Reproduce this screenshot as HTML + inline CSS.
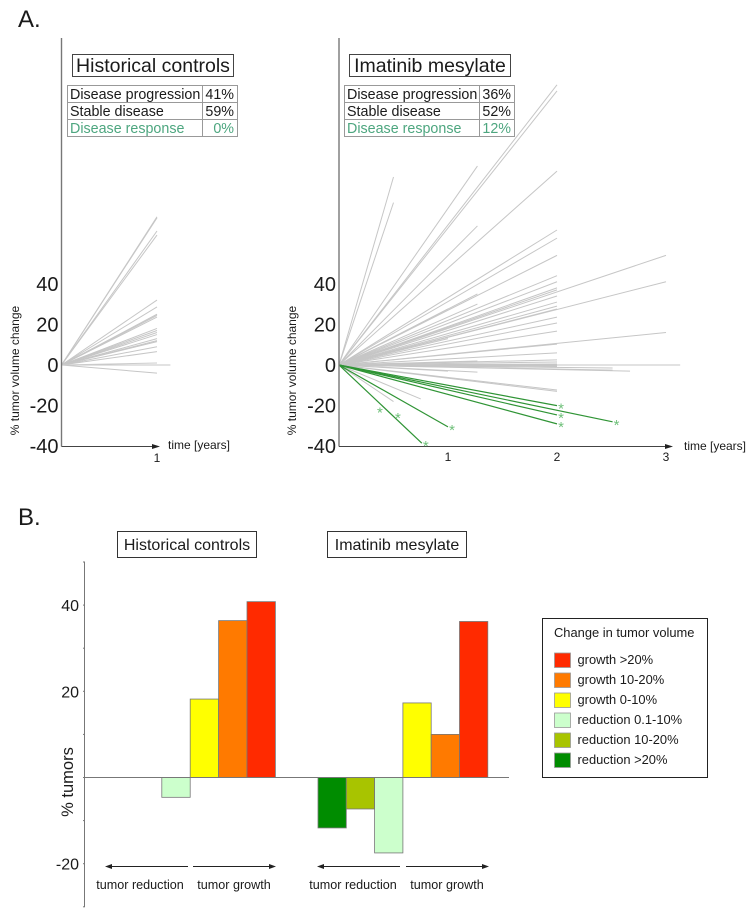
<!DOCTYPE html>
<html lang="en">
<head>
<meta charset="utf-8">
<title>Tumor volume change chart</title>
<style>
html,body{margin:0;padding:0;background:#fff;}
svg{display:block;font-family:"Liberation Sans",Arial,sans-serif;}
text{fill:#1a1a1a;}
</style>
</head>
<body>
<svg id="chart" width="754" height="918" viewBox="0 0 754 918" xmlns="http://www.w3.org/2000/svg">
  <rect x="0" y="0" width="754" height="918" fill="#fff"/>
  <text x="18" y="27" font-size="24">A.</text>
  <text x="18" y="525" font-size="24">B.</text>

  <g>
    <rect x="72.5" y="54.5" width="161" height="22" fill="#fff" stroke="#444" stroke-width="1"/>
    <text x="153" y="72" font-size="19.5" text-anchor="middle">Historical controls</text>
    <rect x="67.5" y="85.5" width="170" height="51" fill="#fff" stroke="#999"/>
    <path d="M67.5 102.5H237.5M67.5 119.5H237.5M202.5 85.5V136.5" stroke="#999" fill="none"/>
    <text x="70" y="99" font-size="14.3">Disease progression</text>
    <text x="234" y="99" font-size="14.3" text-anchor="end">41%</text>
    <text x="70" y="116" font-size="14.3">Stable disease</text>
    <text x="234" y="116" font-size="14.3" text-anchor="end">59%</text>
    <text x="70" y="133" font-size="14.3" style="fill:#4da67f">Disease response</text>
    <text x="234" y="133" font-size="14.3" text-anchor="end" style="fill:#4da67f">0%</text>
  </g>

  <g>
    <rect x="349.5" y="54.5" width="161" height="22" fill="#fff" stroke="#444" stroke-width="1"/>
    <text x="430" y="72" font-size="19.5" text-anchor="middle">Imatinib mesylate</text>
    <rect x="344.5" y="85.5" width="170" height="51" fill="#fff" stroke="#999"/>
    <path d="M344.5 102.5H514.5M344.5 119.5H514.5M479.5 85.5V136.5" stroke="#999" fill="none"/>
    <text x="347" y="99" font-size="14.3">Disease progression</text>
    <text x="511" y="99" font-size="14.3" text-anchor="end">36%</text>
    <text x="347" y="116" font-size="14.3">Stable disease</text>
    <text x="511" y="116" font-size="14.3" text-anchor="end">52%</text>
    <text x="347" y="133" font-size="14.3" style="fill:#4da67f">Disease response</text>
    <text x="511" y="133" font-size="14.3" text-anchor="end" style="fill:#4da67f">12%</text>
  </g>

  <text transform="translate(19,370.5) rotate(-90)" font-size="12" text-anchor="middle">% tumor volume change</text>
  <text transform="translate(296,370.5) rotate(-90)" font-size="12" text-anchor="middle">% tumor volume change</text>
  <text x="168" y="449" font-size="12">time [years]</text>
  <text x="684" y="450" font-size="12">time [years]</text>

  <g id="lines-layer"></g>
  <g id="bars-layer"></g>

  <rect x="117.5" y="531.5" width="139" height="26" fill="#fff" stroke="#333" stroke-width="1"/>
  <text x="187" y="550" font-size="16" text-anchor="middle">Historical controls</text>
  <rect x="327.5" y="531.5" width="139" height="26" fill="#fff" stroke="#333" stroke-width="1"/>
  <text x="397" y="550" font-size="16" text-anchor="middle">Imatinib mesylate</text>
  <text transform="translate(73,782) rotate(-90)" font-size="16.5" text-anchor="middle">% tumors</text>

  <g stroke="#222" fill="#222">
    <path d="M188 866.5H110" fill="none"/>
    <path d="M105 866.5L112 864V869Z" stroke="none"/>
    <path d="M193 866.5H271" fill="none"/>
    <path d="M276 866.5L269 864V869Z" stroke="none"/>
    <path d="M400 866.5H322" fill="none"/>
    <path d="M317 866.5L324 864V869Z" stroke="none"/>
    <path d="M406 866.5H484" fill="none"/>
    <path d="M489 866.5L482 864V869Z" stroke="none"/>
  </g>
  <text x="140" y="889" font-size="12.6" text-anchor="middle">tumor reduction</text>
  <text x="234" y="889" font-size="12.6" text-anchor="middle">tumor growth</text>
  <text x="353" y="889" font-size="12.6" text-anchor="middle">tumor reduction</text>
  <text x="447" y="889" font-size="12.6" text-anchor="middle">tumor growth</text>

  <g>
    <rect x="542.5" y="618.5" width="165" height="159" fill="#fff" stroke="#222" stroke-width="1"/>
    <text x="554" y="637" font-size="12.9">Change in tumor volume</text>
    <g id="legend-entries"></g>
  </g>
</svg>
<script>
// Panel A: historical controls, tumor volume change at last follow-up
const controlYears = [1,1,1,1,1,1,1,1,1,1,1,1,1,1,1,1,1,1,1.14,1];
const controlValues = [73,72.5,66,64,32,28.6,25,24.4,23.6,18,17,16,15,13,12,11.5,9,6.6,0,-4];
const controlExtraYears = [1];
const controlExtraValues = [1];

// Panel A: imatinib mesylate, gray non-response tumors
const imatinibYears = [2,2,2,2,2,2,2,2,2,2,2,2,2,2,2,2,2,2,2,2,2,1.27,1.27,0.5,0.5,1.27,1.27,1.27,1,1,3,3,3,3.13,2.67,2.51,2.51,2,2,1.27,1,0.75,0.5,2,2,2];
const imatinibValues = [138,135,95.5,66.5,62.5,54,44,41,38,37,34,31,29,27.6,23.6,20.7,16.7,10.3,6,0.5,-0.5,98,68.5,92.6,80,35,30,2,27.6,13,54,41,16,0,-3,-1.5,-2.5,-12.3,-13,-3.5,-3,-16.7,-18,1.5,-1,2.5];

// Panel A: imatinib mesylate, green disease-response tumors
const responseYears = [2,2,2,2.51,1,0.76];
const responseValues = [-20,-24.6,-29,-28,-30.5,-38.5];
const loneStarYears = [0.376,0.54];
const loneStarValues = [-22,-24.6];

const lineYTicks = [40,20,0,-20,-40];
const controlXTicks = [1];
const imatinibXTicks = [1,2,3];

// Panel B
const barCategories = ['reduction >20%','reduction 10-20%','reduction 0.1-10%','growth 0-10%','growth 10-20%','growth >20%'];
const barColors = ['#008c00','#a8c400','#ccffcc','#ffff00','#ff7a00','#ff2a00'];
const controlBarValues = [0,0,-4.6,18.2,36.4,40.8];
const imatinibBarValues = [-11.7,-7.3,-17.5,17.3,10,36.2];
const barYTicks = [40,20,-20];
const barMinorTicks = [50,30,10,-10,-30];
const legendOrder = [5,4,3,2,1,0];

const NS = 'http://www.w3.org/2000/svg';
function make(tag, attrs, parent, content) {
  const el = document.createElementNS(NS, tag);
  for (const k in attrs) el.setAttribute(k, attrs[k]);
  if (content !== undefined) el.textContent = content;
  parent.appendChild(el);
  return el;
}

const linesLayer = document.getElementById('lines-layer');
const barsLayer = document.getElementById('bars-layer');
const legendEntries = document.getElementById('legend-entries');

const lineY = v => 365 - 2.03 * v;
const controlX = t => 61.5 + 95.5 * t;
const imatinibX = t => 339 + 109 * t;
const barY = v => 777.5 - 4.31 * v;

function drawSpokes(xFn, years, values, color, width, name) {
  years.forEach((t, i) => {
    const ln = make('line', {x1: xFn(0), y1: lineY(0), x2: xFn(t), y2: lineY(values[i]), stroke: color, 'stroke-width': width}, linesLayer);
    
    
  });
}

function drawLineAxes(xFn, x0, xEnd, xTicks, tickY, prefix) {
  const yAxis = make('line', {x1: x0, y1: 38, x2: x0, y2: 446.5, stroke: '#777', 'stroke-width': 1.4}, linesLayer);
  
  
  const xAxis = make('line', {x1: x0, y1: 446.5, x2: xEnd - 6, y2: 446.5, stroke: '#444', 'stroke-width': 1}, linesLayer);
  
  
  const head = make('path', {d: 'M' + xEnd + ' 446.5L' + (xEnd - 8) + ' 444V449Z', fill: '#222'}, linesLayer);
  
  
  lineYTicks.forEach(v => {
    const t = make('text', {x: x0 - 3, y: lineY(v) + 7, 'font-size': 20, 'text-anchor': 'end'}, linesLayer, String(v));
    
    
  });
  xTicks.forEach(v => {
    const t = make('text', {x: xFn(v), y: tickY, 'font-size': 12, 'text-anchor': 'middle'}, linesLayer, String(v));
    
    
  });
}

drawSpokes(controlX, controlYears, controlValues, '#c6c6c6', 1, 'control-tumor-line');
drawSpokes(controlX, controlExtraYears, controlExtraValues, '#cccccc', 1, 'control-tumor-line');
drawSpokes(imatinibX, imatinibYears, imatinibValues, '#c6c6c6', 1, 'imatinib-tumor-line');
drawSpokes(imatinibX, responseYears, responseValues, '#2f9435', 1.2, 'response-tumor-line');
drawLineAxes(controlX, 61.5, 160, controlXTicks, 462, 'controls');
drawLineAxes(imatinibX, 339, 673, imatinibXTicks, 461, 'imatinib');

function drawStar(px, py) {
  const s = make('text', {x: px, y: py + 8, 'font-size': 15, 'text-anchor': 'middle', style: 'fill:#6fc07a'}, linesLayer, '*');
  
  
}
responseYears.forEach((t, i) => drawStar(imatinibX(t) + 4, lineY(responseValues[i])));
loneStarYears.forEach((t, i) => drawStar(imatinibX(t), lineY(loneStarValues[i])));

// Panel B axis
const barAxis = make('line', {x1: 84.5, y1: barY(50), x2: 84.5, y2: barY(-30), stroke: '#777', 'stroke-width': 1}, barsLayer);



barYTicks.concat(barMinorTicks, [0]).forEach(v => {
  const tick = make('line', {x1: 83, y1: barY(v), x2: 85, y2: barY(v), stroke: '#777'}, barsLayer);
  
  
});
barYTicks.forEach(v => {
  const label = make('text', {x: 79, y: barY(v) + 6, 'font-size': 16, 'text-anchor': 'end'}, barsLayer, String(v));
  
  
});

function drawBars(values, x0, slot, prefix) {
  values.forEach((v, i) => {
    if (v === 0) return;
    const top = Math.min(barY(v), barY(0));
    const h = Math.abs(barY(v) - barY(0));
    const r = make('rect', {x: x0 + i * slot, y: top, width: slot, height: h, fill: barColors[i], stroke: '#777', 'stroke-width': 0.8}, barsLayer);
    
    
  });
}
drawBars(controlBarValues, 105, 28.4, 'controls');
drawBars(imatinibBarValues, 318, 28.3, 'imatinib');

const zeroLine = make('line', {x1: 84.5, y1: barY(0), x2: 509, y2: barY(0), stroke: '#777', 'stroke-width': 1}, barsLayer);



legendOrder.forEach((c, i) => {
  const y = 653 + i * 20;
  const sw = make('rect', {x: 554.5, y: y, width: 16, height: 14.5, fill: barColors[c], stroke: '#999', 'stroke-width': 0.8}, legendEntries);
  
  
  const lb = make('text', {x: 577.5, y: y + 11, 'font-size': 12.9}, legendEntries, barCategories[c]);
  
  
});
</script>
</body>
</html>
